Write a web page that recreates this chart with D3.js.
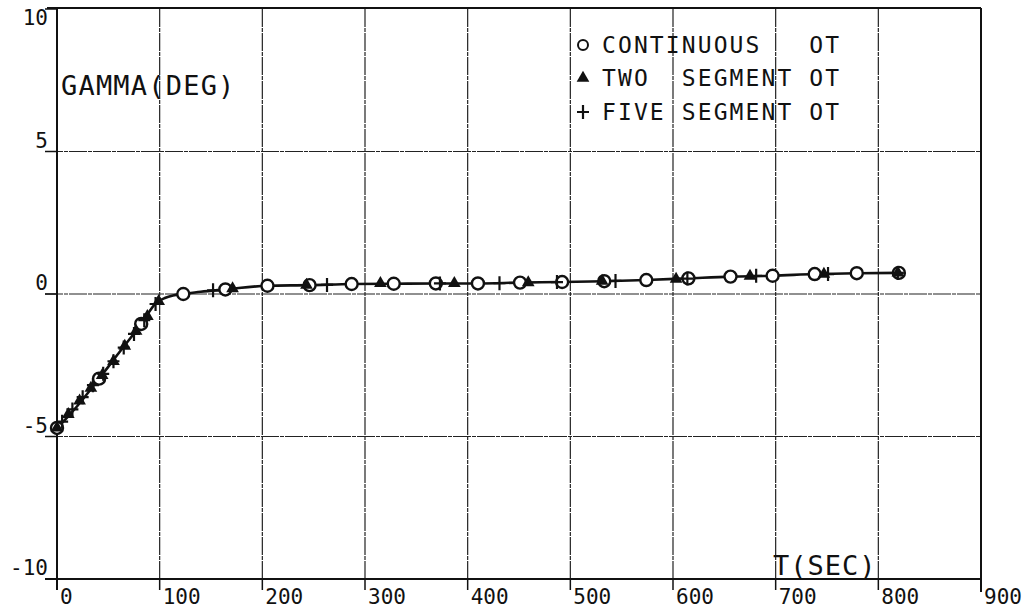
<!DOCTYPE html>
<html>
<head>
<meta charset="utf-8">
<script src="https://cdn.jsdelivr.net/npm/d3@7"></script>
<style>
  body { margin: 0; background: #fff; }
  svg { display: block; }
  text { font-family: "DejaVu Sans Mono", "Liberation Mono", monospace; fill: #111; }
</style>
</head>
<body>
<div id="chart"></div>
<script>
const width = 1036;
const height = 612;

// solid curve (continuous optimal trajectory)
const curveT = [0, 10, 20, 41, 60, 82, 97, 105, 113, 123, 140, 164, 205, 246, 287, 328, 369, 410, 451, 492, 533, 574, 615, 656, 697, 738, 779, 820];
const curveG = [-4.70, -4.33, -3.92, -2.97, -2.08, -1.05, -0.30, -0.14, -0.05, 0.00, 0.08, 0.16, 0.29, 0.31, 0.35, 0.36, 0.37, 0.37, 0.40, 0.42, 0.45, 0.49, 0.55, 0.61, 0.64, 0.70, 0.73, 0.74];

// continuous OT markers
const contT = [0, 41, 82, 123, 164, 205, 246, 287, 328, 369, 410, 451, 492, 533, 574, 615, 656, 697, 738, 779, 820];
const contG = [-4.70, -2.97, -1.05, 0.00, 0.16, 0.29, 0.31, 0.35, 0.36, 0.37, 0.37, 0.40, 0.42, 0.45, 0.49, 0.55, 0.61, 0.64, 0.70, 0.73, 0.74];

// two segment OT markers
const twoT = [0, 11, 22, 33, 44, 55, 66, 77, 88, 99, 171, 243, 315, 387, 459, 531, 603, 675, 747, 819];
const twoG = [-4.70, -4.22, -3.75, -3.30, -2.85, -2.36, -1.83, -1.30, -0.78, -0.26, 0.19, 0.31, 0.37, 0.37, 0.40, 0.45, 0.52, 0.63, 0.70, 0.74];

// five segment OT markers
const fiveT = [5, 15, 25, 35, 45, 55, 65, 75, 85, 96, 152, 263, 373, 431, 487, 544, 614, 681, 751, 819];
const fiveG = [-4.48, -4.05, -3.62, -3.20, -2.80, -2.36, -1.88, -1.40, -0.92, -0.35, 0.13, 0.32, 0.37, 0.38, 0.42, 0.46, 0.54, 0.64, 0.70, 0.74];

const xTicks = [0, 100, 200, 300, 400, 500, 600, 700, 800, 900];
const yTicks = [-10, -5, 0, 5, 10];
const legendLabels = ["CONTINUOUS   OT", "TWO  SEGMENT OT", "FIVE SEGMENT OT"];

const svg = d3.select('#chart')
    .append("svg")
    .attr('width', width)
    .attr('height', height);

const x = d3.scaleLinear().domain([0, 900]).range([57, 981]);
const y = d3.scaleLinear().domain([-10, 10]).range([579, 9]);

// grid
svg.append("g")
    .selectAll("line")
    .data(xTicks.filter(d => d > 0 && d < 900))
    .enter()
    .append("line")
    .attr("x1", d => x(d)).attr("x2", d => x(d))
    .attr("y1", y(10)).attr("y2", y(-10))
    .style("stroke", "#222")
    .style("stroke-width", 1.2)
    .style("stroke-dasharray", "18,1,4,1");

svg.append("g")
    .selectAll("line")
    .data(yTicks.filter(d => d > -10 && d < 10))
    .enter()
    .append("line")
    .attr("x1", 45).attr("x2", x(900))
    .attr("y1", d => y(d)).attr("y2", d => y(d))
    .style("stroke", "#222")
    .style("stroke-width", 1.2)
    .style("stroke-dasharray", "18,1,4,1");

// frame
const frame = svg.append("g").style("stroke", "#111").style("stroke-width", 2);
frame.append("line").attr("x1", 47).attr("x2", x(900)).attr("y1", y(10) - 1).attr("y2", y(10) - 1);
frame.append("line").attr("x1", 45).attr("x2", x(900)).attr("y1", y(-10)).attr("y2", y(-10));
frame.append("line").attr("x1", x(0)).attr("x2", x(0)).attr("y1", y(10) - 1).attr("y2", y(-10) + 11);
frame.append("line").attr("x1", x(900)).attr("x2", x(900)).attr("y1", y(10) - 1).attr("y2", y(-10) + 13);

// x ticks + labels
const xt = svg.append("g").selectAll("g").data(xTicks).enter().append("g");
xt.append("line")
    .attr("x1", d => x(d)).attr("x2", d => x(d))
    .attr("y1", y(-10)).attr("y2", y(-10) + 11)
    .style("stroke", "#111").style("stroke-width", 1.5);
xt.append("text")
    .attr("x", d => x(d) + 3)
    .attr("y", y(-10) + 25)
    .style("font-size", "21px")
    .text(d => d);

// y ticks + labels
const yt = svg.append("g").selectAll("g").data(yTicks).enter().append("g");
yt.append("line")
    .attr("x1", 45).attr("x2", x(0))
    .attr("y1", d => y(d)).attr("y2", d => y(d))
    .style("stroke", "#111").style("stroke-width", 1.5);
yt.append("text")
    .attr("x", 48)
    .attr("y", d => d === 10 ? 25 : y(d) - 4)
    .attr("text-anchor", "end")
    .style("font-size", "21px")
    .text(d => d < 0 ? "-" + Math.abs(d) : d);

// axis titles
svg.append("text")
    .attr("x", 61).attr("y", 95)
    .style("font-size", "27px")
    .style("letter-spacing", "1.2px")
    .text("GAMMA(DEG)");

svg.append("text")
    .attr("x", 773).attr("y", 575)
    .style("font-size", "27px")
    .style("letter-spacing", "1px")
    .text("T(SEC)");

// curve
const line = d3.line()
    .x(d => x(d[0]))
    .y(d => y(d[1]))
    .curve(d3.curveMonotoneX);

svg.append("path")
    .datum(d3.zip(curveT, curveG))
    .attr("d", line)
    .style("fill", "none")
    .style("stroke", "#111")
    .style("stroke-width", 2.6);

// markers
const triangle = d3.symbol().type(d3.symbolTriangle).size(70);

function drawCircles(g, pts) {
    g.selectAll("circle").data(pts).enter().append("circle")
        .attr("cx", d => x(d[0])).attr("cy", d => y(d[1]))
        .attr("r", 6)
        .style("fill", "#fff")
        .style("stroke", "#111")
        .style("stroke-width", 2.4);
}
function drawTriangles(g, pts) {
    g.selectAll("path").data(pts).enter().append("path")
        .attr("d", triangle)
        .attr("transform", d => "translate(" + x(d[0]) + "," + y(d[1]) + ")")
        .style("fill", "#111");
}
function drawPluses(g, pts) {
    g.selectAll("path").data(pts).enter().append("path")
        .attr("d", "M-6,0H6M0,-7V7")
        .attr("transform", d => "translate(" + x(d[0]) + "," + y(d[1]) + ")")
        .style("stroke", "#111")
        .style("stroke-width", 2.2);
}

drawCircles(svg.append("g"), d3.zip(contT, contG));
drawTriangles(svg.append("g"), d3.zip(twoT, twoG));
drawPluses(svg.append("g"), d3.zip(fiveT, fiveG));

// legend
const legend = svg.append("g");
const legendY = [45, 78, 112];
legend.selectAll("text").data(legendLabels).enter().append("text")
    .attr("x", 602)
    .attr("y", (d, i) => legendY[i] + 8)
    .style("font-size", "23px")
    .style("letter-spacing", "2.1px")
    .style("white-space", "pre")
    .attr("xml:space", "preserve")
    .text(d => d);

legend.append("circle")
    .attr("cx", 583).attr("cy", legendY[0]).attr("r", 5)
    .style("fill", "#fff").style("stroke", "#111").style("stroke-width", 2);
legend.append("path")
    .attr("d", triangle)
    .attr("transform", "translate(583," + legendY[1] + ")")
    .style("fill", "#111");
legend.append("path")
    .attr("d", "M-6,0H6M0,-7V7")
    .attr("transform", "translate(583," + legendY[2] + ")")
    .style("stroke", "#111").style("stroke-width", 2.2);
</script>
</body>
</html>
